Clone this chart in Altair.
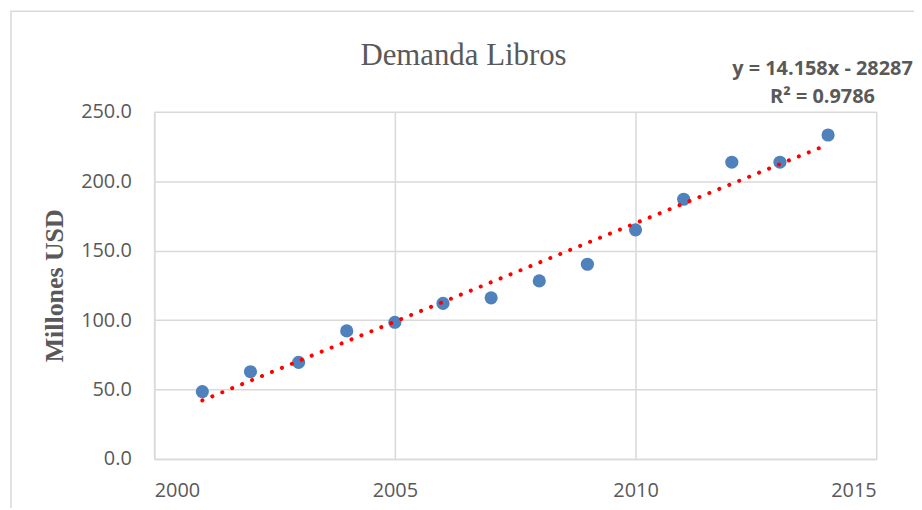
import altair as alt
import pandas as pd

years = [2001, 2002, 2003, 2004, 2005, 2006, 2007, 2008, 2009, 2010, 2011, 2012, 2013, 2014]
demand = [48.5, 62.8, 69.5, 92.2, 98.4, 112.0, 116.0, 128.2, 140.2, 165.0, 187.0, 213.7, 213.7, 233.3]
x_ticks = [2000, 2005, 2010, 2015]
y_ticks = [0, 50, 100, 150, 200, 250]
chart_title = "Demanda Libros"
y_title = "Millones USD"
eq_line1 = "y = 14.158x - 28287"
eq_line2 = "R² = 0.9786"

df = pd.DataFrame({"year": years, "value": demand})

W, H = 726, 349
GRID = "#d9d9d9"
TXT = "#595959"

x_enc = alt.X("year:Q", scale=alt.Scale(domain=[2000, 2015], nice=False, zero=False),
              axis=alt.Axis(values=x_ticks, format="d", title=None, grid=True,
                            ticks=False, tickSize=0, labelPadding=22,
                            labelFont="Open Sans", labelFontSize=20, labelColor=TXT,
                            gridColor=GRID, gridWidth=1.5, domainColor=GRID, domainWidth=1.5))
y_enc = alt.Y("value:Q", scale=alt.Scale(domain=[0, 250], nice=False),
              axis=alt.Axis(values=y_ticks, format=".1f", title=y_title, grid=True,
                            ticks=False, tickSize=0, labelPadding=23,
                            labelFont="Open Sans", labelFontSize=20, labelColor=TXT,
                            gridColor=GRID, gridWidth=1.5, domainColor=GRID, domainWidth=1.5,
                            titleFont="Liberation Serif", titleFontSize=26, titleFontWeight="bold",
                            titleColor=TXT, titleAngle=270, titleX=-92, titleY=H / 2,
                            titleAlign="center", titleBaseline="alphabetic"))

base = alt.Chart(df)

points = base.mark_circle(size=175, color="#4F81BD", opacity=1).encode(x=x_enc, y=y_enc)

trend = base.transform_regression("year", "value").mark_line(
    color="#FF0000", strokeWidth=4, strokeDash=[0.1, 10.7], strokeCap="round"
).encode(x="year:Q", y="value:Q")

one = alt.Data(values=[{"k": 1}])

frame = alt.Chart(one).mark_rect(fill="transparent", stroke=GRID, strokeWidth=1.5, clip=False).encode(
    x=alt.value(-144), x2=alt.value(W + 80), y=alt.value(-101), y2=alt.value(H + 80)
)

title = alt.Chart(one).mark_text(font="Liberation Serif", fontSize=31, color=TXT,
                                 align="center", baseline="alphabetic").encode(
    x=alt.value(311), y=alt.value(-47), text=alt.value(chart_title)
)

eq1 = alt.Chart(one).mark_text(font="Open Sans", fontSize=20, fontWeight="bold", color=TXT,
                               align="center", baseline="alphabetic").encode(
    x=alt.value(672), y=alt.value(-37), text=alt.value(eq_line1)
)
eq2 = alt.Chart(one).mark_text(font="Open Sans", fontSize=20, fontWeight="bold", color=TXT,
                               align="center", baseline="alphabetic").encode(
    x=alt.value(672), y=alt.value(-9), text=alt.value(eq_line2)
)

chart = alt.layer(frame, points, trend, title, eq1, eq2).properties(
    width=W, height=H,
    autosize=alt.AutoSizeParams(type="none"),
    padding={"left": 147, "top": 103, "right": 38, "bottom": 48},
    background="white",
).configure_view(strokeWidth=0)

chart.save("out.html", embed_options={"renderer": "svg", "actions": False})
